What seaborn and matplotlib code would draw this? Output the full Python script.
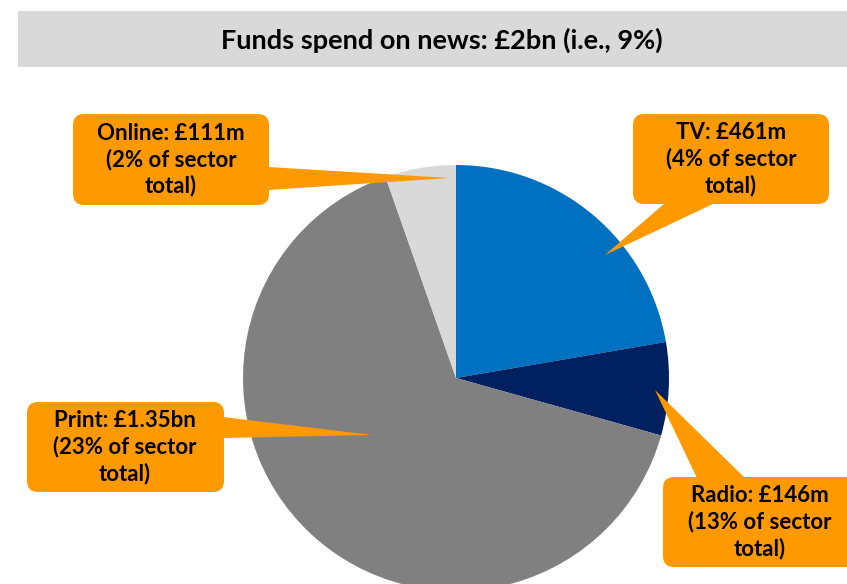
import matplotlib
matplotlib.use("Agg")
import matplotlib.pyplot as plt
from matplotlib.patches import FancyBboxPatch, Polygon, Rectangle
import seaborn as sns

# News spending by medium (£m) and share of each sector's total
categories = ["TV", "Radio", "Print", "Online"]
spend_m = [461, 146, 1350, 111]
sector_share_pct = [4, 13, 23, 2]
slice_colors = ["#0070C0", "#002060", "#808080", "#D9D9D9"]
title = "Funds spend on news: £2bn (i.e., 9%)"

sns.set_theme(style="white")
plt.rcParams["font.family"] = ["Lato", "DejaVu Sans"]

W, H = 847, 584
fig = plt.figure(figsize=(W / 100, H / 100), dpi=100)
ax = fig.add_axes([0, 0, 1, 1])


def py(y):
    """Convert a top-down pixel row to an axes y coordinate."""
    return H - y


# Title banner
ax.add_patch(Rectangle((18, py(67)), W - 18, 56, facecolor="#D9D9D9",
                       edgecolor="none", zorder=1))
ax.text(442, py(40), title, ha="center", va="center", fontsize=19.5,
        fontweight="bold", color="black", zorder=2)

# Pie
ax.pie(spend_m, colors=slice_colors, startangle=90, counterclock=False,
       center=(456, py(378)), radius=213, frame=True,
       wedgeprops=dict(linewidth=0))


def money(v):
    return f"£{v / 1000:.2f}bn" if v >= 1000 else f"£{v}m"


ORANGE = "#FF9900"
# Callout geometry: box (x0, y0, x1, y1), pointer triangle and text centre x
callouts = {
    "TV": dict(box=(633, 114, 829, 204),
               tri=[(665, 203), (715, 203), (605, 255)], tx=731),
    "Radio": dict(box=(663, 477, 860, 567),
                  tri=[(697, 478), (745, 478), (655, 390)], tx=760),
    "Print": dict(box=(27, 402, 224, 492),
                  tri=[(223, 417), (223, 438), (372, 435)], tx=125),
    "Online": dict(box=(73, 114, 269, 205),
                   tri=[(268, 167), (268, 190), (450, 178)], tx=171),
}

for cat, v, pct in zip(categories, spend_m, sector_share_pct):
    c = callouts[cat]
    x0, y0, x1, y1 = c["box"]
    ax.add_patch(FancyBboxPatch((x0, py(y1)), x1 - x0, y1 - y0,
                                boxstyle="round,pad=0,rounding_size=11",
                                facecolor=ORANGE, edgecolor="none", zorder=3))
    ax.add_patch(Polygon([(x, py(y)) for x, y in c["tri"]], closed=True,
                         facecolor=ORANGE, edgecolor="none", zorder=3))
    label = f"{cat}: {money(v)}\n({pct}% of sector\ntotal)"
    ax.text(c["tx"], py((y0 + y1) / 2), label, ha="center", va="center",
            fontsize=16, fontweight="bold", color="black",
            linespacing=1.27, zorder=4)

ax.set_xlim(0, W)
ax.set_ylim(0, H)
ax.set_aspect("auto")
ax.axis("off")

fig.savefig("out.png", dpi=100, facecolor="white")
